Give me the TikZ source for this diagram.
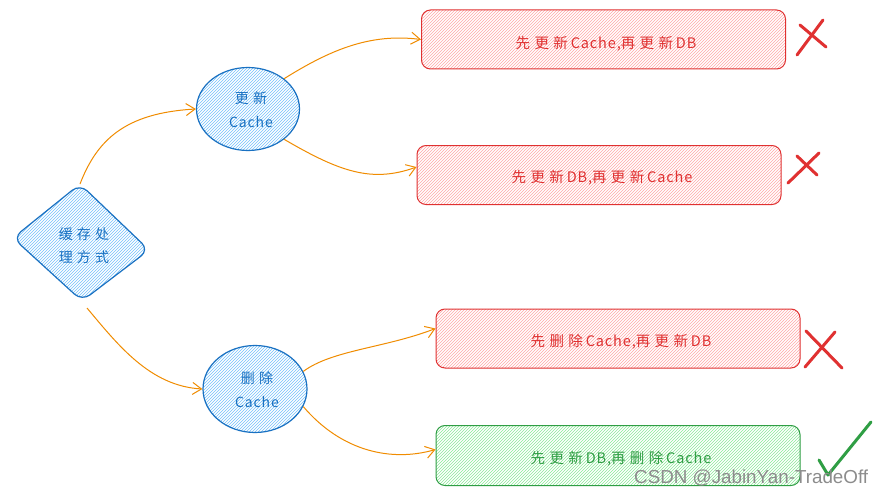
\documentclass[tikz,border=0pt]{standalone}
\usepackage{fontspec}
\newfontfamily\cjk[LetterSpace=30]{Noto Sans CJK SC}
\newfontfamily\lat[LetterSpace=6]{Noto Sans CJK SC}
\newfontfamily\wm{Liberation Sans}
\newcommand{\zh}[1]{{\cjk #1}\hspace{0.2em}}
\newcommand{\la}[1]{{\lat #1}}
\usetikzlibrary{arrows.meta,patterns,shapes.geometric}
\definecolor{cblue}{HTML}{1971C2}
\definecolor{hblue}{HTML}{74C0FC}
\definecolor{cred}{HTML}{E03131}
\definecolor{hred}{HTML}{FFA8A8}
\definecolor{cgreen}{HTML}{2F9E44}
\definecolor{hgreen}{HTML}{8CE99A}
\definecolor{corange}{HTML}{F08C00}
\begin{document}
\begin{tikzpicture}[x=1pt,y=-1pt,
  shapeblue/.style={draw=cblue,line width=1.2pt,pattern=north east lines,pattern color=hblue},
  boxred/.style={draw=cred,line width=1pt,rounded corners=9pt,pattern=north east lines,pattern color=hred,minimum width=364pt,minimum height=59pt,inner sep=0pt},
  boxgreen/.style={draw=cgreen,line width=1pt,rounded corners=9pt,pattern=north east lines,pattern color=hgreen,minimum width=364pt,minimum height=60pt,inner sep=0pt},
  conn/.style={draw=corange,line width=1pt,-{Straight Barb[length=9pt,width=12pt,line width=1pt]}},
  txr/.style={text=cred,font=\fontsize{14.5}{16}\selectfont},
  txb/.style={text=cblue,align=center,font=\fontsize{14}{24}\selectfont},
  xmark/.style={line width=3pt,line cap=round}
]
\useasboundingbox (0,0) rectangle (881,495);
\fill[white] (0,0) rectangle (881,495);
% diamond
\draw[shapeblue,rounded corners=10pt] (80,184) -- (149,250) -- (82,301) -- (13,238) -- cycle;
\node[txb,font=\fontsize{14}{23}\selectfont] (dia) at (84,246) {{\cjk 缓存处}\\{\cjk 理方式}};
\coordinate (dtop) at (80,184);
\coordinate (dbot) at (87,308);
% circles
\node[ellipse,shapeblue,minimum width=103pt,minimum height=83pt,inner sep=0pt] (c1) at (248,109) {};
\node[txb] at (251,110) {{\cjk 更新}\\\la{Cache}};
\node[ellipse,shapeblue,minimum width=104pt,minimum height=87pt,inner sep=0pt] (c2) at (255,389) {};
\node[txb] at (257,390) {{\cjk 删除}\\\la{Cache}};
% boxes
\node[boxred] (b1) at (603.5,39.5) {};
\node[txr] at (606,44) {\zh{先更新}\la{Cache,}\zh{再更新}\la{DB}};
\node[boxred] (b2) at (599,175) {};
\node[txr] at (602,178) {\zh{先更新}\la{DB,}\zh{再更新}\la{Cache}};
\node[boxred] (b3) at (618,338.5) {};
\node[txr] at (621,342) {\zh{先删除}\la{Cache,}\zh{再更新}\la{DB}};
\node[boxgreen] (b4) at (618,455.5) {};
\node[txr,text=cgreen] at (621,459) {\zh{先更新}\la{DB,}\zh{再删除}\la{Cache}};
% connectors
\draw[conn] (dtop) .. controls (97,140) and (125,113) .. (c1.west);
\draw[conn] (dbot) .. controls (118,345) and (150,386) .. (c2.west);
\draw[conn] (c1.40) .. controls (330,50) and (370,33) .. (b1.west);
\draw[conn] (c1.-40) .. controls (340,172) and (372,183) .. ([yshift=8pt]b2.west);
\draw[conn] (c2.20) .. controls (332,350) and (385,348) .. ([yshift=10pt]b3.west);
\draw[conn] (c2.-20) .. controls (342,452) and (392,462) .. ([yshift=6pt]b4.west);
% marks
\draw[xmark,cred] (797,55) -- (823,20);
\draw[xmark,cred] (800,25) -- (826,47);
\draw[xmark,cred] (788,183) -- (819,153);
\draw[xmark,cred] (797,156) -- (817,175);
\draw[xmark,cred] (806,331) -- (842,368);
\draw[xmark,cred] (805,367) -- (835,332);
\draw[xmark,cgreen,line join=round] (819,460) -- (828,475) -- (871,422);
% watermark
\node[text=black!45,font=\wm\fontsize{18.8}{20}\selectfont,anchor=west,inner sep=0pt] at (634,478) {CSDN @JabinYan-TradeOff};
\end{tikzpicture}
\end{document}
